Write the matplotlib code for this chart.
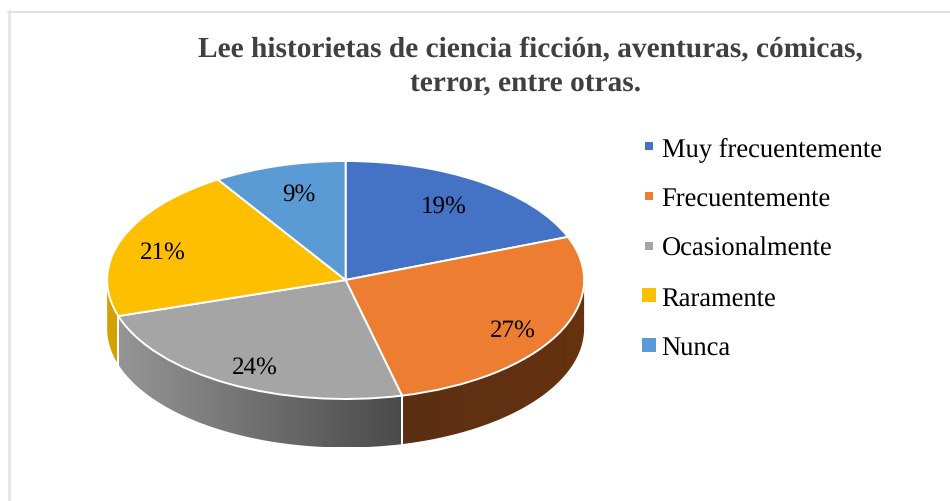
import numpy as np
import matplotlib as mpl
import matplotlib.pyplot as plt
from matplotlib.colors import LinearSegmentedColormap
from matplotlib.lines import Line2D
from matplotlib.patches import PathPatch
from matplotlib.path import Path
from matplotlib.transforms import Affine2D

mpl.rcParams['font.family'] = ['Liberation Serif', 'DejaVu Serif']
mpl.rcParams['text.hinting'] = 'no_hinting'

title_lines = ['Lee historietas de ciencia ficción, aventuras, cómicas,', 'terror, entre otras.']
categories = ['Muy frecuentemente', 'Frecuentemente', 'Ocasionalmente', 'Raramente', 'Nunca']
percents = [19.1, 27.1, 23.9, 20.9, 9.0]
colors = ['#4472c4', '#ed7d31', '#a5a5a5', '#fdbf00', '#5b9bd5']
side_left = ['#2a4478', '#5c2f13', '#959595', '#d3a200', '#375d80']
side_right = ['#2a4478', '#66320f', '#4a4a4a', '#d3a200', '#375d80']

label_xy = [(443.5, 206.5), (513, 330.5), (255, 367.5), (163, 252.5), (299, 194.5)]
title_xy = [(530.5, 56.5), (525.5, 91)]
marker_sizes = [5.8, 5.8, 5.8, 10, 10]

W, H = 950, 502
cx, cy, rx, ry, depth = 345.6, 281, 238.5, 119, 48.5


def wall(ax, a0, a1, left, right):
    # side of the slice, only the front half of the rim can be seen
    a0, a1 = max(a0, 90), min(a1, 270)
    if a1 <= a0:
        return
    t = np.radians(np.linspace(a0, a1, 120))
    xs, ys = np.sin(t), np.cos(t)
    d = depth / ry
    pts = np.vstack([np.c_[xs, ys], np.c_[xs[::-1], ys[::-1] - d]])
    cmap = LinearSegmentedColormap.from_list('side', [left, right])
    im = ax.imshow(np.linspace(0, 1, 256)[None, :], cmap=cmap, aspect='auto',
                   extent=(xs.min(), xs.max(), ys.min() - d, ys.max()), zorder=1)
    clip = PathPatch(Path(np.vstack([pts, pts[:1]])), transform=ax.transData)
    im.set_clip_path(clip)
    for a, x, y in ((a0, xs[0], ys[0]), (a1, xs[-1], ys[-1])):
        if 90 < a < 270:
            ax.plot([x, x], [y, y - d], color='white', lw=1.4, zorder=2)


def main():
    fig = plt.figure(figsize=(W / 100, H / 100), dpi=100, facecolor='white')
    px = Affine2D().scale(1, -1).translate(0, H)
    ax = fig.add_axes([0, 0, 1, 1])

    edges = np.cumsum([0] + percents) * 3.6
    for i in range(len(percents)):
        wall(ax, edges[i], edges[i + 1], side_left[i], side_right[i])

    wedges, _ = ax.pie(percents, colors=colors, startangle=90, counterclock=False,
                       radius=1, wedgeprops=dict(edgecolor='white', linewidth=1.4, zorder=3))

    ax.set_aspect('auto')
    ax.set_xlim(-cx / rx, (W - cx) / rx)
    ax.set_ylim((cy - H) / ry, cy / ry)
    ax.axis('off')

    for v, (x, y) in zip(percents, label_xy):
        ax.text(x, y, '%d%%' % round(v), transform=px, ha='center', va='center',
                fontsize=18, color='black', zorder=5)

    for line, (x, y) in zip(title_lines, title_xy):
        ax.text(x, y, line, transform=px, ha='center', va='baseline', fontsize=21.2,
                fontweight='bold', color='#404040', zorder=5)

    handles = [Line2D([], [], marker='s', ls='', color=c, markersize=s, markeredgewidth=0)
               for c, s in zip(colors, marker_sizes)]
    ax.legend(handles, categories, loc='upper left', bbox_to_anchor=(636, 137.5),
              bbox_transform=px, frameon=False, fontsize=19.1, labelspacing=0.948,
              handlelength=0.97, handletextpad=0.0, borderpad=0, borderaxespad=0,
              labelcolor='black')

    # thin frame of the pasted picture
    fig.add_artist(Line2D([8, W], [12.5, 12.5], transform=px, color='#dcdcdc', lw=1.2))
    fig.add_artist(Line2D([9, 9], [12, H], transform=px, color='#e2e2e2', lw=1.8))

    fig.savefig('out.png', dpi=100)


if __name__ == '__main__':
    main()
